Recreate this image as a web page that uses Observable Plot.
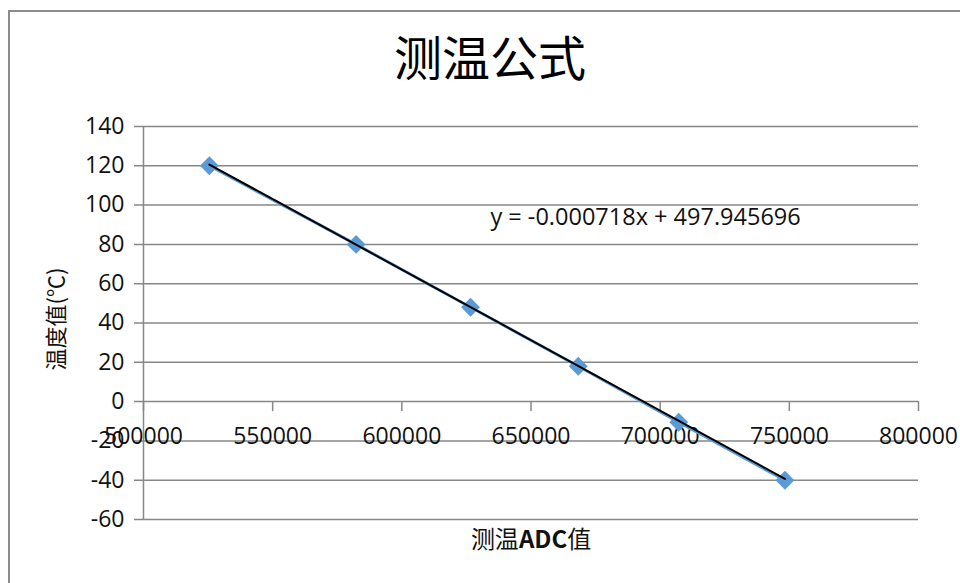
<!DOCTYPE html>
<html>
<head>
<meta charset="utf-8">
<script src="https://cdn.jsdelivr.net/npm/d3@7"></script>
<script src="https://cdn.jsdelivr.net/npm/@observablehq/plot@0.6"></script>
<style>
  html, body { margin: 0; padding: 0; background: #fff; overflow: hidden; }
  #wrap { position: relative; width: 960px; height: 583px; }
  #border { position: absolute; left: 8px; top: 10px; width: 1000px; height: 700px; border: 2px solid #8c8c8c; box-sizing: border-box; }
  #chart { position: absolute; left: 0; top: 0; }
</style>
</head>
<body>
<div id="wrap"><div id="border"></div><div id="chart"></div></div>
<script>
const title = "测温公式";
const xLabel = "测温ADC值";
const yLabel = "温度值(℃)";
const eqLabel = "y = -0.000718x + 497.945696";
const xValues = [525500, 582300, 626600, 668300, 707200, 748300];
const yValues = [120, 80, 48, 18, -10.5, -40];
const xTicks = [500000, 550000, 600000, 650000, 700000, 750000, 800000];
const yTicks = [-60, -40, -20, 0, 20, 40, 60, 80, 100, 120, 140];
const slope = -0.000718;
const intercept = 497.945696;
const eqPos = {x: 634300, y: 93.5};

const data = xValues.map((x, i) => ({x, y: yValues[i]}));
const xMin = d3.min(xValues), xMax = d3.max(xValues);
const trend = [xMin, xMax].map(x => ({x, y: slope * x + intercept}));

const cjk = "'Noto Sans CJK SC', 'Open Sans', sans-serif";
const grid = "#878787";

const chart = Plot.plot({
  width: 960,
  height: 583,
  marginLeft: 143,
  marginRight: 42,
  marginTop: 126,
  marginBottom: 64,
  x: {domain: [500000, 800000], axis: null},
  y: {domain: [-60, 140], axis: null},
  style: {fontFamily: "'Open Sans', sans-serif", background: "transparent", overflow: "visible"},
  marks: [
    Plot.ruleY(yTicks, {y: d => d, stroke: grid, strokeWidth: 1.5, insetLeft: -9}),
    Plot.ruleX([500000], {stroke: grid, strokeWidth: 1.5}),
    Plot.ruleX(xTicks, {x: d => d, y1: 0, y2: 0, insetBottom: -10, stroke: grid, strokeWidth: 1.5}),
    Plot.text(yTicks, {x: 500000, y: d => d, text: d => String(d), textAnchor: "end", dx: -19, fontSize: 23, fill: "#111"}),
    Plot.text(xTicks, {x: d => d, y: 0, dy: 35, text: d => String(d), fontSize: 23, fill: "#111"}),
    Plot.line(data, {x: "x", y: "y", stroke: "#5B9BD5", strokeWidth: 3}),
    Plot.dot(data, {x: "x", y: "y", symbol: "diamond2", r: 8.5, fill: "#5B9BD5", stroke: "none"}),
    Plot.line(trend, {x: "x", y: "y", stroke: "#000", strokeWidth: 2}),
    Plot.text([eqLabel], {x: eqPos.x, y: eqPos.y, textAnchor: "start", fontSize: 23.5, fill: "#111"}),
    Plot.text([title], {frameAnchor: "top", lineAnchor: "middle", dy: -66, dx: -41, fontSize: 48, fontFamily: cjk, fill: "#000"}),
    Plot.text([yLabel], {frameAnchor: "left", textAnchor: "middle", lineAnchor: "middle", rotate: -90, dx: -87, dy: -4, fontSize: 22, fontFamily: cjk, fill: "#111"}),
    Plot.text([xLabel], {frameAnchor: "bottom", textAnchor: "middle", lineAnchor: "middle", dy: 21, fontSize: 24, fontFamily: cjk, fill: "#111"})
  ]
});

// make "ADC" bold inside the x-axis label
chart.querySelectorAll("text").forEach(t => {
  if (t.textContent === xLabel) {
    t.textContent = "";
    const parts = [["测温", "normal"], ["ADC", "bold"], ["值", "normal"]];
    parts.forEach(([s, w]) => {
      const ts = document.createElementNS("http://www.w3.org/2000/svg", "tspan");
      ts.textContent = s;
      ts.setAttribute("font-weight", w);
      t.appendChild(ts);
    });
  }
});

document.getElementById("chart").appendChild(chart);
</script>
</body>
</html>
